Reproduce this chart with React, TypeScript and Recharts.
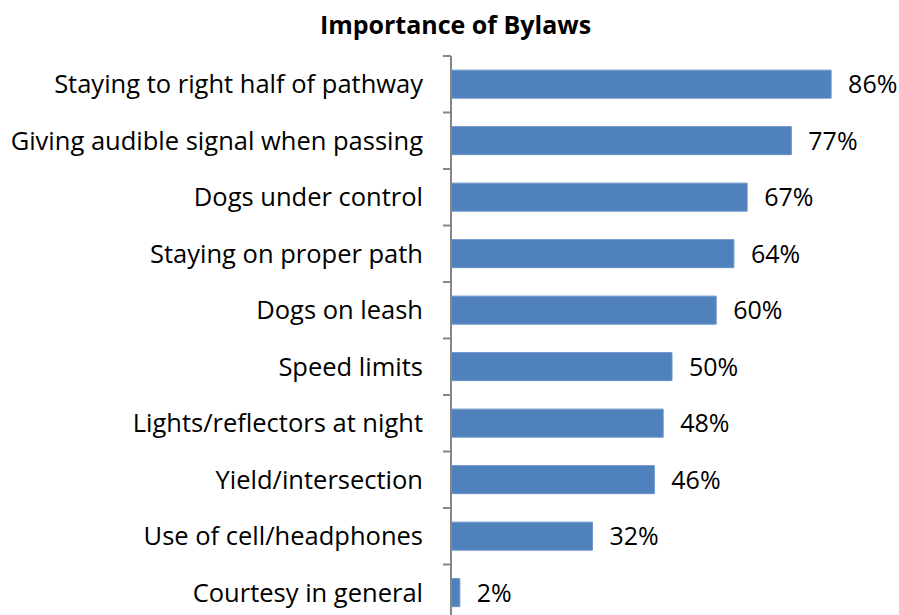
import React from 'react';
import { BarChart, Bar, XAxis, YAxis, LabelList } from 'recharts';

const title = 'Importance of Bylaws';
const categories = [
  'Staying to right half of pathway',
  'Giving audible signal when passing',
  'Dogs under control',
  'Staying on proper path',
  'Dogs on leash',
  'Speed limits',
  'Lights/reflectors at night',
  'Yield/intersection',
  'Use of cell/headphones',
  'Courtesy in general',
];
const values = [86, 77, 67, 64, 60, 50, 48, 46, 32, 2];
const xDomain = [0, 100];

const data = categories.map((name, i) => ({ name, value: values[i] }));

const FONT = '"Open Sans", Lato, sans-serif';
const CHART_W = 899;
const CHART_H = 625;
const MARGIN = { top: 56, right: 6, bottom: 4, left: 0 };
const AXIS_W = 451;
const PLOT_H = CHART_H - MARGIN.top - MARGIN.bottom;
const BAND = PLOT_H / categories.length;
const AXIS_COLOR = '#868686';

const CategoryTick = (props: any) => {
  const { x, y, payload, index } = props;
  return (
    <g>
      <text
        x={x - 28}
        y={y}
        dy="0.36em"
        textAnchor="end"
        fontFamily={FONT}
        fontSize={25.5}
        fill="#000"
      >
        {payload.value}
      </text>
      <line x1={x - 8} x2={x} y1={y - BAND / 2} y2={y - BAND / 2} stroke={AXIS_COLOR} strokeWidth={2} />
      {index === categories.length - 1 && (
        <line x1={x - 8} x2={x} y1={y + BAND / 2} y2={y + BAND / 2} stroke={AXIS_COLOR} strokeWidth={2} />
      )}
    </g>
  );
};

const fmt = (v: any) => `${v}%`;

export default function App() {
  return (
    <div
      style={{
        position: 'fixed',
        left: 0,
        top: 0,
        width: 899,
        height: 615,
        overflow: 'hidden',
        background: '#fff',
      }}
    >
      <div
        style={{
          position: 'absolute',
          left: 0,
          top: 9,
          width: 899,
          textAlign: 'center',
          fontFamily: FONT,
          fontWeight: 'bold',
          fontSize: 25,
          lineHeight: '30px',
          color: '#000',
          paddingLeft: 12,
          boxSizing: 'border-box',
        }}
      >
        {title}
      </div>
      <div style={{ position: 'absolute', left: 0, top: 0 }}>
        <BarChart
          width={CHART_W}
          height={CHART_H}
          data={data}
          layout="vertical"
          margin={MARGIN}
          barCategoryGap="25%"
        >
          <XAxis type="number" dataKey="value" domain={xDomain} hide />
          <YAxis
            type="category"
            dataKey="name"
            width={AXIS_W}
            tickLine={false}
            tickSize={0}
            tickMargin={0}
            axisLine={{ stroke: AXIS_COLOR, strokeWidth: 2 }}
            tick={CategoryTick}
            interval={0}
          />
          <Bar dataKey="value" fill="#4F81BD" stroke="#6A93C8" strokeWidth={1} isAnimationActive={false}>
            <LabelList
              dataKey="value"
              position="right"
              offset={17}
              formatter={fmt}
              fill="#000"
              fontSize={25}
              fontFamily={FONT}
            />
          </Bar>
        </BarChart>
      </div>
    </div>
  );
}
